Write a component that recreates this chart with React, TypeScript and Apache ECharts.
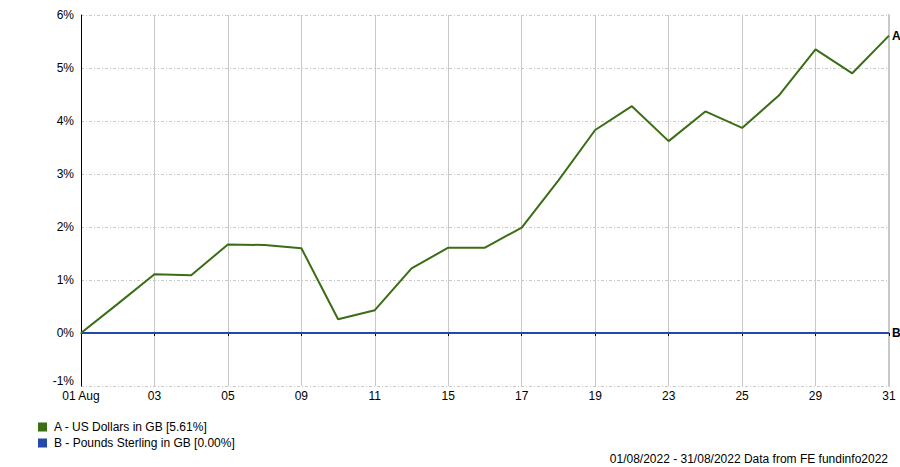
import { useEffect, useRef } from 'react';
import * as echarts from 'echarts';

// business days of August 2022
const days = [
  '01 Aug', '02', '03', '04', '05', '08', '09', '10', '11', '12', '15', '16',
  '17', '18', '19', '22', '23', '24', '25', '26', '29', '30', '31',
];

// cumulative % change
const usDollars = [
  0, 0.55, 1.11, 1.09, 1.67, 1.66, 1.6, 0.26, 0.43, 1.22, 1.61, 1.61,
  1.99, 2.88, 3.83, 4.28, 3.62, 4.18, 3.87, 4.48, 5.35, 4.9, 5.61,
];
const poundsSterling = days.map(() => 0);

const seriesNames = [
  'A - US Dollars in GB [5.61%]',
  'B - Pounds Sterling in GB [0.00%]',
];
const endTags = ['A', 'B'];
const yTicks = { min: -1, max: 6, interval: 1 };

const GREEN = '#3a6e14';
const BLUE = '#2449a8';
const GRID = '#c8c8c8';
const FONT = 'Liberation Sans, Arial, sans-serif';

export default function App() {
  const ref = useRef<HTMLDivElement | null>(null);

  useEffect(() => {
    document.body.style.margin = '0';
    if (!ref.current) return;
    const chart = echarts.init(ref.current, null, { renderer: 'svg' });

    const endLabel = (tag: string) => ({
      show: true,
      formatter: tag,
      color: '#000',
      fontWeight: 'bold' as const,
      fontSize: 12,
      fontFamily: FONT,
      distance: 3,
    });

    chart.setOption({
      animation: false,
      textStyle: { fontFamily: FONT },
      grid: { left: 81, right: 11, top: 15, bottom: 81 },
      xAxis: [
        {
          type: 'category',
          data: days,
          boundaryGap: false,
          axisLine: { lineStyle: { color: '#000', width: 1 } },
          axisTick: { interval: 1, length: 3, lineStyle: { color: '#000' } },
          axisLabel: { interval: 1, color: '#000', fontSize: 12, margin: 4, fontFamily: FONT },
          splitLine: { show: true, interval: 1, lineStyle: { color: GRID, width: 1 } },
        },
        {
          type: 'category',
          data: days,
          position: 'top',
          boundaryGap: false,
          axisLine: { lineStyle: { color: GRID, width: 1 } },
          axisTick: { show: false },
          axisLabel: { show: false },
        },
      ],
      yAxis: [
        {
          type: 'value',
          min: yTicks.min,
          max: yTicks.max,
          interval: yTicks.interval,
          axisLine: { show: true, lineStyle: { color: '#000', width: 1 } },
          axisTick: { show: false },
          axisLabel: {
            color: '#000',
            fontSize: 12,
            margin: 7,
            fontFamily: FONT,
            // lowest label nudged up so it clears "01 Aug"
            formatter: (v: number) => (v === yTicks.min ? `{lo|${v}%}` : `${v}%`),
            rich: { lo: { color: '#000', fontSize: 12, fontFamily: FONT, padding: [0, 0, 10, 0] } },
          },
          splitLine: { lineStyle: { color: GRID, width: 1, type: [3, 2, 1, 2] } },
        },
        {
          type: 'value',
          position: 'right',
          min: yTicks.min,
          max: yTicks.max,
          interval: yTicks.interval,
          axisLine: { show: true, lineStyle: { color: GRID, width: 2 } },
          axisTick: { show: false },
          axisLabel: { show: false },
          splitLine: { show: false },
        },
      ],
      legend: {
        orient: 'vertical',
        left: 33,
        top: 416,
        icon: 'rect',
        itemWidth: 9,
        itemHeight: 9,
        itemGap: 4,
        textStyle: { color: '#000', fontSize: 12, fontFamily: FONT, padding: [0, 0, 0, 2] },
        data: seriesNames,
      },
      graphic: [
        {
          type: 'text',
          right: 12,
          top: 453,
          style: {
            text: '01/08/2022 - 31/08/2022 Data from FE fundinfo2022',
            fill: '#000',
            fontSize: 12,
            fontFamily: FONT,
          },
        },
      ],
      series: [
        {
          name: seriesNames[1],
          type: 'line',
          data: poundsSterling,
          showSymbol: false,
          lineStyle: { color: BLUE, width: 2 },
          itemStyle: { color: BLUE },
          endLabel: endLabel(endTags[1]),
          z: 2,
        },
        {
          name: seriesNames[0],
          type: 'line',
          data: usDollars,
          showSymbol: false,
          lineStyle: { color: GREEN, width: 2 },
          itemStyle: { color: GREEN },
          endLabel: endLabel(endTags[0]),
          z: 3,
        },
      ],
    });

    return () => chart.dispose();
  }, []);

  return <div ref={ref} style={{ width: 900, height: 467 }} />;
}
